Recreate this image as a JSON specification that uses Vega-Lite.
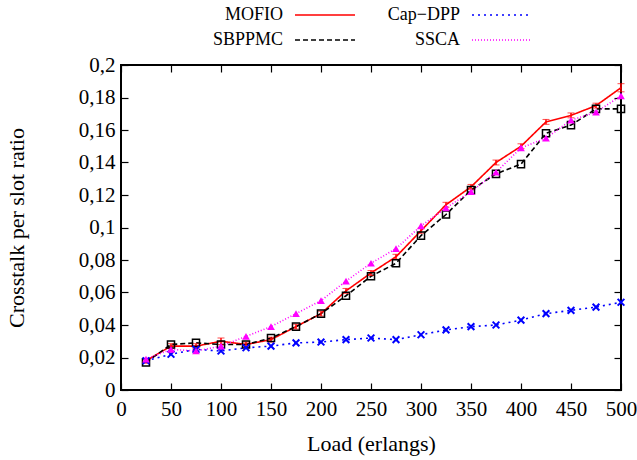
{
 "$schema": "https://vega.github.io/schema/vega-lite/v6.json",
 "width": 500, "height": 325,
 "autosize": {"type": "none"},
 "padding": {"left": 121, "top": 65, "right": 16, "bottom": 70},
 "background": "white",
 "config": {
  "font": "Liberation Serif",
  "view": {"stroke": "black", "strokeWidth": 2},
  "axis": {"labelFont": "Liberation Serif", "titleFont": "Liberation Serif", "labelFontSize": 21, "titleFontSize": 22, "titleFontWeight": "normal", "labelColor": "black", "titleColor": "black", "domain": false, "grid": false, "tickColor": "black", "tickSize": -7, "tickWidth": 1.2, "labelFlush": false, "labelOverlap": false},
  "legend": {"labelFont": "Liberation Serif", "labelFontSize": 18, "labelColor": "black"}
 },
 "datasets": {
  "d": [
   {"load":25,"series":"MOFIO","value":0.018,"lo":0.0165,"hi":0.0195},
   {"load":50,"series":"MOFIO","value":0.027,"lo":0.0255,"hi":0.0285},
   {"load":75,"series":"MOFIO","value":0.027,"lo":0.0255,"hi":0.0285},
   {"load":100,"series":"MOFIO","value":0.030,"lo":0.028,"hi":0.032},
   {"load":125,"series":"MOFIO","value":0.028,"lo":0.0265,"hi":0.0295},
   {"load":150,"series":"MOFIO","value":0.031,"lo":0.0295,"hi":0.0325},
   {"load":175,"series":"MOFIO","value":0.039,"lo":0.0375,"hi":0.0405},
   {"load":200,"series":"MOFIO","value":0.047,"lo":0.0455,"hi":0.0485},
   {"load":225,"series":"MOFIO","value":0.061,"lo":0.0595,"hi":0.0625},
   {"load":250,"series":"MOFIO","value":0.072,"lo":0.0705,"hi":0.0735},
   {"load":275,"series":"MOFIO","value":0.082,"lo":0.0805,"hi":0.0835},
   {"load":300,"series":"MOFIO","value":0.098,"lo":0.0965,"hi":0.0995},
   {"load":325,"series":"MOFIO","value":0.114,"lo":0.1125,"hi":0.1155},
   {"load":350,"series":"MOFIO","value":0.125,"lo":0.1235,"hi":0.1265},
   {"load":375,"series":"MOFIO","value":0.140,"lo":0.1385,"hi":0.1415},
   {"load":400,"series":"MOFIO","value":0.150,"lo":0.1485,"hi":0.1515},
   {"load":425,"series":"MOFIO","value":0.165,"lo":0.1635,"hi":0.1665},
   {"load":450,"series":"MOFIO","value":0.169,"lo":0.1675,"hi":0.1705},
   {"load":475,"series":"MOFIO","value":0.175,"lo":0.1735,"hi":0.1765},
   {"load":500,"series":"MOFIO","value":0.186,"lo":0.1835,"hi":0.1885},
   {"load":25,"series":"SBPPMC","value":0.017},
   {"load":50,"series":"SBPPMC","value":0.028},
   {"load":75,"series":"SBPPMC","value":0.029},
   {"load":100,"series":"SBPPMC","value":0.028},
   {"load":125,"series":"SBPPMC","value":0.028},
   {"load":150,"series":"SBPPMC","value":0.032},
   {"load":175,"series":"SBPPMC","value":0.039},
   {"load":200,"series":"SBPPMC","value":0.047},
   {"load":225,"series":"SBPPMC","value":0.058},
   {"load":250,"series":"SBPPMC","value":0.070},
   {"load":275,"series":"SBPPMC","value":0.078},
   {"load":300,"series":"SBPPMC","value":0.095},
   {"load":325,"series":"SBPPMC","value":0.108},
   {"load":350,"series":"SBPPMC","value":0.123},
   {"load":375,"series":"SBPPMC","value":0.133},
   {"load":400,"series":"SBPPMC","value":0.139},
   {"load":425,"series":"SBPPMC","value":0.158},
   {"load":450,"series":"SBPPMC","value":0.163},
   {"load":475,"series":"SBPPMC","value":0.173},
   {"load":500,"series":"SBPPMC","value":0.173},
   {"load":25,"series":"Cap−DPP","value":0.018},
   {"load":50,"series":"Cap−DPP","value":0.022},
   {"load":75,"series":"Cap−DPP","value":0.025},
   {"load":100,"series":"Cap−DPP","value":0.024},
   {"load":125,"series":"Cap−DPP","value":0.026},
   {"load":150,"series":"Cap−DPP","value":0.027},
   {"load":175,"series":"Cap−DPP","value":0.029},
   {"load":200,"series":"Cap−DPP","value":0.0295},
   {"load":225,"series":"Cap−DPP","value":0.031},
   {"load":250,"series":"Cap−DPP","value":0.032},
   {"load":275,"series":"Cap−DPP","value":0.031},
   {"load":300,"series":"Cap−DPP","value":0.034},
   {"load":325,"series":"Cap−DPP","value":0.037},
   {"load":350,"series":"Cap−DPP","value":0.039},
   {"load":375,"series":"Cap−DPP","value":0.040},
   {"load":400,"series":"Cap−DPP","value":0.043},
   {"load":425,"series":"Cap−DPP","value":0.047},
   {"load":450,"series":"Cap−DPP","value":0.049},
   {"load":475,"series":"Cap−DPP","value":0.051},
   {"load":500,"series":"Cap−DPP","value":0.054},
   {"load":25,"series":"SSCA","value":0.019},
   {"load":50,"series":"SSCA","value":0.025},
   {"load":75,"series":"SSCA","value":0.024},
   {"load":100,"series":"SSCA","value":0.027},
   {"load":125,"series":"SSCA","value":0.033},
   {"load":150,"series":"SSCA","value":0.039},
   {"load":175,"series":"SSCA","value":0.047},
   {"load":200,"series":"SSCA","value":0.055},
   {"load":225,"series":"SSCA","value":0.067},
   {"load":250,"series":"SSCA","value":0.078},
   {"load":275,"series":"SSCA","value":0.087},
   {"load":300,"series":"SSCA","value":0.101},
   {"load":325,"series":"SSCA","value":0.112},
   {"load":350,"series":"SSCA","value":0.122},
   {"load":375,"series":"SSCA","value":0.134},
   {"load":400,"series":"SSCA","value":0.149},
   {"load":425,"series":"SSCA","value":0.155},
   {"load":450,"series":"SSCA","value":0.166},
   {"load":475,"series":"SSCA","value":0.171},
   {"load":500,"series":"SSCA","value":0.181}
  ]
 },
 "data": {"name": "d"},
 "layer": [
  {
   "mark": {"type": "line", "strokeWidth": 1.6},
   "encoding": {
    "x": {"field": "load", "type": "quantitative", "scale": {"domain": [0, 500], "nice": false},
      "axis": {"orient": "bottom", "title": "Load (erlangs)", "values": [0,50,100,150,200,250,300,350,400,450,500], "labelPadding": 15, "titlePadding": 14}},
    "y": {"field": "value", "type": "quantitative", "scale": {"domain": [0, 0.2], "nice": false},
      "axis": {"orient": "left", "title": "Crosstalk per slot ratio", "values": [0,0.02,0.04,0.06,0.08,0.1,0.12,0.14,0.16,0.18,0.2], "labelExpr": "replace(format(datum.value, '~g'), '.', ',')", "labelPadding": 13, "titlePadding": 50}},
    "color": {"field": "series", "type": "nominal",
      "scale": {"domain": ["MOFIO", "SBPPMC", "Cap−DPP", "SSCA"], "range": ["#ff0000", "#000000", "#0000ff", "#ff00ff"]},
      "legend": {"title": null, "orient": "none", "legendX": 188, "legendY": -66, "columns": 2, "symbolType": "M-2,0L2,0", "symbolSize": 900, "symbolStrokeWidth": 1.6, "symbolFillColor": "transparent", "labelAlign": "right", "labelOffset": -58, "columnPadding": 28, "rowPadding": -3}},
    "strokeDash": {"field": "series", "type": "nominal",
      "scale": {"domain": ["MOFIO", "SBPPMC", "Cap−DPP", "SSCA"], "range": [[1, 0], [5, 3], [2, 4], [1, 2]]},
      "legend": {"title": null, "orient": "none", "legendX": 188, "legendY": -66, "columns": 2, "symbolType": "M-2,0L2,0", "symbolSize": 900, "symbolStrokeWidth": 1.6, "symbolFillColor": "transparent", "labelAlign": "right", "labelOffset": -58, "columnPadding": 28, "rowPadding": -3}}
   }
  },
  {
   "mark": {"type": "line", "opacity": 0},
   "encoding": {
    "x": {"field": "load", "type": "quantitative", "axis": {"orient": "top", "title": null, "labels": false, "values": [0,50,100,150,200,250,300,350,400,450,500]}},
    "y": {"field": "value", "type": "quantitative", "axis": {"orient": "right", "title": null, "labels": false, "values": [0,0.02,0.04,0.06,0.08,0.1,0.12,0.14,0.16,0.18,0.2]}},
    "detail": {"field": "series"}
   }
  },
  {
   "transform": [{"filter": "datum.series === 'MOFIO'"}],
   "mark": {"type": "errorbar", "color": "#ff0000", "ticks": {"size": 7, "color": "#ff0000"}, "rule": {"strokeWidth": 1.5}},
   "encoding": {
    "x": {"field": "load", "type": "quantitative", "axis": null},
    "y": {"field": "lo", "type": "quantitative", "axis": null},
    "y2": {"field": "hi"}
   }
  },
  {
   "transform": [{"filter": "datum.series === 'SBPPMC'"}],
   "mark": {"type": "point", "shape": "square", "filled": false, "color": "#000000", "strokeWidth": 1.5, "size": 50, "opacity": 1},
   "encoding": {
    "x": {"field": "load", "type": "quantitative", "axis": null},
    "y": {"field": "value", "type": "quantitative", "axis": null}
   }
  },
  {
   "transform": [{"filter": "datum.series === 'Cap−DPP'"}],
   "mark": {"type": "point", "shape": "M-1,-1L1,1M-1,1L1,-1", "filled": false, "color": "#0000ff", "strokeWidth": 2, "size": 45, "opacity": 1},
   "encoding": {
    "x": {"field": "load", "type": "quantitative", "axis": null},
    "y": {"field": "value", "type": "quantitative", "axis": null}
   }
  },
  {
   "transform": [{"filter": "datum.series === 'SSCA'"}],
   "mark": {"type": "point", "shape": "triangle-up", "filled": true, "color": "#ff00ff", "size": 60, "opacity": 1},
   "encoding": {
    "x": {"field": "load", "type": "quantitative", "axis": null},
    "y": {"field": "value", "type": "quantitative", "axis": null}
   }
  }
 ],
 "resolve": {"axis": {"x": "independent", "y": "independent"}}
}
